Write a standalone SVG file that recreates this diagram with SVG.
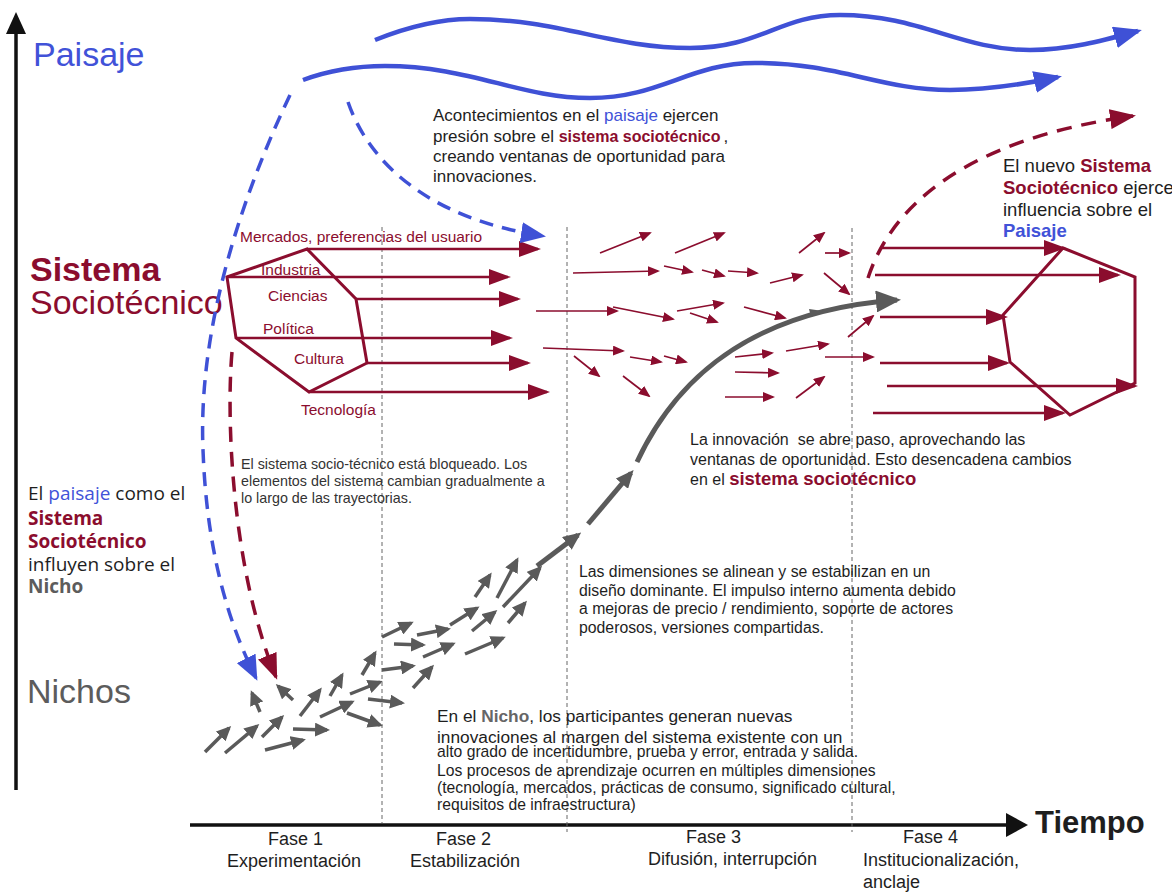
<svg xmlns="http://www.w3.org/2000/svg" width="1172" height="892" viewBox="0 0 1172 892">
<style>
text{font-family:"Liberation Sans",Arial,Helvetica,sans-serif;fill:#1e1e1e}
.os{font-family:"Open Sans","Liberation Sans",sans-serif}
.red{fill:#8b0d2e}
.blue{fill:#4152d8}
.b{font-weight:bold}
.grey{fill:#5c5c5c}
.axis{stroke:#111;stroke-width:3.5;fill:none}
.guide{stroke:#666;stroke-width:1;stroke-dasharray:4 3}
.wave{stroke:#3f51d6;stroke-width:4.5;fill:none;marker-end:url(#hBlue)}
.bdash{stroke:#3f51d6;stroke-width:3.5;fill:none;stroke-dasharray:14 9;marker-end:url(#hBlueS)}
.rdash{stroke:#8b0d2e;stroke-width:3.5;fill:none;stroke-dasharray:15 10;marker-end:url(#hRedD)}
.hex{stroke:#8b0d2e;stroke-width:3;fill:none;stroke-linejoin:miter}
.big{stroke:#8b0d2e;stroke-width:2.6;marker-end:url(#hRed)}
.sm{stroke:#8b0d2e;stroke-width:1.7;marker-end:url(#hRedS)}
.ga{stroke:#5a5a5a;stroke-width:3.5;marker-end:url(#hGrey)}
.gm{stroke:#5a5a5a;stroke-width:5;fill:none;marker-end:url(#hGreyM)}
.gc{stroke:#5a5a5a;stroke-width:5;fill:none;marker-end:url(#hGreyL)}
</style>
<defs>
<marker id="hBlue" markerUnits="userSpaceOnUse" markerWidth="28" markerHeight="22" refX="24" refY="11" orient="auto"><path d="M0,0 L28,11 L0,22 z" fill="#3f51d6"/></marker>
<marker id="hBlueS" markerUnits="userSpaceOnUse" markerWidth="25" markerHeight="21" refX="22" refY="10.5" orient="auto"><path d="M0,0 L25,10.5 L0,21 z" fill="#3f51d6"/></marker>
<marker id="hRedD" markerUnits="userSpaceOnUse" markerWidth="26" markerHeight="20" refX="23" refY="10" orient="auto"><path d="M0,0 L26,10 L0,20 z" fill="#8b0d2e"/></marker>
<marker id="hRed" markerUnits="userSpaceOnUse" markerWidth="22" markerHeight="16" refX="19" refY="8" orient="auto"><path d="M0,0 L22,8 L0,16 z" fill="#8b0d2e"/></marker>
<marker id="hRedS" markerUnits="userSpaceOnUse" markerWidth="12" markerHeight="10" refX="10" refY="5" orient="auto"><path d="M0,0 L12,5 L0,10 z" fill="#8b0d2e"/></marker>
<marker id="hGrey" markerUnits="userSpaceOnUse" markerWidth="15" markerHeight="14" refX="12" refY="7" orient="auto"><path d="M0,0 L15,7 L0,14 z" fill="#5a5a5a"/></marker>
<marker id="hGreyM" markerUnits="userSpaceOnUse" markerWidth="18" markerHeight="16" refX="14" refY="8" orient="auto"><path d="M0,0 L18,8 L0,16 z" fill="#5a5a5a"/></marker>
<marker id="hGreyL" markerUnits="userSpaceOnUse" markerWidth="25" markerHeight="22" refX="21" refY="11" orient="auto"><path d="M0,0 L25,11 L0,22 z" fill="#5a5a5a"/></marker>
</defs>

<!-- axes -->
<g id="axes">
<line class="axis" x1="16" y1="790" x2="16" y2="30"/>
<polygon points="6,34 26,34 16,12" fill="#111"/>
<line class="axis" x1="190" y1="825" x2="1010" y2="825" stroke-width="4"/>
<polygon points="1006,813 1028,825 1006,837" fill="#111"/>
<text x="1035" y="833" font-size="31" class="b" fill="#111">Tiempo</text>
</g>

<!-- phase separators -->
<g id="phase-guides">
<line class="guide" x1="382" y1="227" x2="382" y2="823"/>
<line class="guide" x1="567" y1="227" x2="567" y2="832"/>
<line class="guide" x1="852" y1="228" x2="852" y2="832"/>
</g>

<!-- level labels -->
<g id="level-paisaje"><text x="33" y="66" font-size="34" class="blue">Paisaje</text></g>
<g id="level-sistema">
<text x="30" y="281" font-size="34" class="red b">Sistema</text>
<text x="30" y="314" font-size="34" class="red">Sociotécnico</text>
</g>
<g id="level-nichos"><text x="27" y="703" font-size="34" class="grey">Nichos</text></g>

<!-- existing regime: hexagon of dimensions -->
<g id="regimen-actual">
<polygon class="hex" points="227,277 307,249 356,299 367,363 309,392 236,338"/>
<g font-size="15.5" class="red">
<text x="240" y="242" class="red">Mercados, preferencias del usuario</text>
<text x="261" y="275" class="red">Industria</text>
<text x="268" y="301" class="red">Ciencias</text>
<text x="263" y="334" class="red">Política</text>
<text x="294" y="364" class="red">Cultura</text>
<text x="301" y="415" class="red">Tecnología</text>
</g>
<line class="big" x1="307" y1="249" x2="538" y2="249"/>
<line class="big" x1="227" y1="277" x2="508" y2="277"/>
<line class="big" x1="356" y1="299" x2="518" y2="299"/>
<line class="big" x1="236" y1="338" x2="510" y2="338"/>
<line class="big" x1="367" y1="363" x2="528" y2="363"/>
<line class="big" x1="309" y1="392" x2="547" y2="392"/>
</g>

<!-- new regime -->
<g id="regimen-nuevo">
<polygon class="hex" points="1063,248 1135,277 1135,383 1070,415 1010,362 1003,315"/>
<line class="big" x1="882" y1="248" x2="1063" y2="248"/>
<line class="big" x1="875" y1="275" x2="1118" y2="275"/>
<line class="big" x1="880" y1="317" x2="1005" y2="317"/>
<line class="big" x1="880" y1="363" x2="1007" y2="363"/>
<line class="big" x1="887" y1="386" x2="1135" y2="386"/>
<line class="big" x1="873" y1="413" x2="1063" y2="413"/>
</g>

<!-- regime in flux -->
<g id="regimen-dinamico">
<line class="sm" x1="600" y1="253" x2="650" y2="233"/>
<line class="sm" x1="675" y1="253" x2="724" y2="233"/>
<line class="sm" x1="799" y1="253" x2="824" y2="233"/>
<line class="sm" x1="825" y1="253" x2="849" y2="253"/>
<line class="sm" x1="573" y1="273" x2="658" y2="271"/>
<line class="sm" x1="664" y1="266" x2="692" y2="272"/>
<line class="sm" x1="702" y1="270" x2="724" y2="276"/>
<line class="sm" x1="728" y1="271" x2="757" y2="273"/>
<line class="sm" x1="770" y1="283" x2="802" y2="275"/>
<line class="sm" x1="824" y1="273" x2="849" y2="294"/>
<line class="sm" x1="536" y1="311" x2="617" y2="311"/>
<line class="sm" x1="613" y1="307" x2="673" y2="319"/>
<line class="sm" x1="677" y1="311" x2="723" y2="303"/>
<line class="sm" x1="690" y1="313" x2="717" y2="322"/>
<line class="sm" x1="744" y1="307" x2="785" y2="318"/>
<line class="sm" x1="543" y1="348" x2="623" y2="351"/>
<line class="sm" x1="574" y1="356" x2="599" y2="376"/>
<line class="sm" x1="630" y1="357" x2="661" y2="362"/>
<line class="sm" x1="664" y1="356" x2="686" y2="362"/>
<line class="sm" x1="623" y1="376" x2="649" y2="396"/>
<line class="sm" x1="735" y1="357" x2="772" y2="353"/>
<line class="sm" x1="786" y1="351" x2="828" y2="344"/>
<line class="sm" x1="735" y1="372" x2="778" y2="373"/>
<line class="sm" x1="725" y1="397" x2="773" y2="397"/>
<line class="sm" x1="796" y1="398" x2="824" y2="377"/>
<line class="sm" x1="825" y1="357" x2="873" y2="357" stroke="#b85a70"/>
<line class="sm" x1="848" y1="337" x2="873" y2="316"/>
</g>

<!-- niche experiments -->
<g id="nicho">
<line class="ga" x1="205" y1="752" x2="229" y2="728"/>
<line class="ga" x1="225" y1="753" x2="257" y2="726"/>
<line class="ga" x1="262" y1="737" x2="282" y2="717"/>
<line class="ga" x1="265" y1="750" x2="303" y2="740"/>
<line class="ga" x1="293" y1="729" x2="327" y2="730"/>
<line class="ga" x1="260" y1="712" x2="252" y2="693"/>
<line class="ga" x1="293" y1="700" x2="278" y2="686"/>
<line class="ga" x1="300" y1="716" x2="320" y2="690"/>
<line class="ga" x1="320" y1="717" x2="352" y2="702"/>
<line class="ga" x1="330" y1="696" x2="342" y2="675"/>
<line class="ga" x1="350" y1="694" x2="380" y2="682"/>
<line class="ga" x1="347" y1="713" x2="380" y2="725"/>
<line class="ga" x1="362" y1="675" x2="375" y2="653"/>
<line class="ga" x1="368" y1="699" x2="402" y2="703"/>
<line class="ga" x1="382" y1="670" x2="413" y2="666"/>
<line class="ga" x1="382" y1="637" x2="411" y2="623"/>
<line class="ga" x1="394" y1="644" x2="423" y2="645"/>
<line class="ga" x1="413" y1="688" x2="432" y2="667"/>
<line class="ga" x1="417" y1="635" x2="448" y2="629"/>
<line class="ga" x1="423" y1="657" x2="453" y2="644"/>
<line class="ga" x1="450" y1="625" x2="477" y2="608"/>
<line class="ga" x1="465" y1="654" x2="503" y2="638"/>
<line class="ga" x1="472" y1="631" x2="495" y2="612"/>
<line class="ga" x1="475" y1="597" x2="490" y2="575"/>
<line class="ga" x1="497" y1="598" x2="517" y2="560"/>
<line class="ga" x1="503" y1="607" x2="540" y2="568"/>
<line class="ga" x1="508" y1="623" x2="525" y2="603"/>
</g>

<!-- connectors: landscape waves, influence arcs, innovation trajectory -->
<g id="connectors">
<path class="wave" d="M375,40 C410,26 440,19 470,19 C560,19 610,48 690,48 C760,48 780,15 840,15 C920,15 960,50 1030,50 C1070,50 1105,40 1138,31"/>
<path class="wave" d="M303,80 C330,70 355,66 385,66 C470,66 520,98 590,98 C660,98 690,63 755,63 C840,63 880,90 950,90 C990,90 1025,84 1058,77"/>
<path class="bdash" d="M290,95 C240,200 198,330 203,450 C207,560 232,630 256,678"/>
<path class="bdash" d="M348,102 C368,160 425,218 543,236"/>
<path class="rdash" d="M232,352 C226,420 232,570 276,677"/>
<path class="rdash" d="M868,278 C890,210 960,140 1133,116"/>
<line class="gm" x1="537" y1="566" x2="578" y2="535"/>
<line class="gm" x1="588" y1="524" x2="631" y2="473"/>
<path class="gc" d="M637,462 C680,370 760,310 897,300"/>
<polygon points="809,309 823,311 811,317" fill="#5a5a5a"/>
</g>

<!-- annotations -->
<g id="nota-paisaje" font-size="17">
<text x="433" y="121">Acontecimientos en el <tspan class="blue">paisaje</tspan> ejercen</text>
<text x="433" y="142">presión sobre el <tspan class="red b" font-size="16">sistema sociotécnico</tspan><tspan dx="3">,</tspan></text>
<text x="433" y="162">creando ventanas de oportunidad para</text>
<text x="433" y="182">innovaciones.</text>
</g>

<g id="nota-nuevo-sistema" font-size="18.5">
<text x="1003" y="172">El nuevo <tspan class="red b">Sistema</tspan></text>
<text x="1003" y="194"><tspan class="red b">Sociotécnico</tspan> ejerce</text>
<text x="1003" y="216">influencia sobre el</text>
<text x="1003" y="237" class="blue b">Paisaje</text>
</g>

<g id="nota-influencia" font-size="19">
<text class="os" x="28" y="500">El <tspan class="blue">paisaje</tspan> como el</text>
<text class="os red b" x="28" y="525">Sistema</text>
<text class="os red b" x="28" y="548">Sociotécnico</text>
<text class="os" x="28" y="571">influyen sobre el</text>
<text class="os b" x="28" y="593" style="fill:#5c5c5c">Nicho</text>
</g>

<g id="nota-bloqueo" font-size="14.3">
<text x="241" y="469" style="fill:#333">El sistema socio-técnico está bloqueado. Los</text>
<text x="241" y="486" style="fill:#333">elementos del sistema cambian gradualmente a</text>
<text x="241" y="503" style="fill:#333">lo largo de las trayectorias.</text>
</g>

<g id="nota-innovacion" font-size="16">
<text x="690" y="445" xml:space="preserve">La innovación  se abre paso, aprovechando las</text>
<text x="690" y="465">ventanas de oportunidad. Esto desencadena cambios</text>
<text x="690" y="485">en el <tspan class="red b" font-size="18.5">sistema sociotécnico</tspan></text>
</g>

<g id="nota-alineacion" font-size="15.8">
<text x="579" y="577">Las dimensiones se alinean y se estabilizan en un</text>
<text x="579" y="596">diseño dominante. El impulso interno aumenta debido</text>
<text x="579" y="614">a mejoras de precio / rendimiento, soporte de actores</text>
<text x="579" y="633">poderosos, versiones compartidas.</text>
</g>

<g id="nota-nicho">
<text x="437" y="722" font-size="17.3">En el <tspan class="b" style="fill:#666">Nicho</tspan>, los participantes generan nuevas</text>
<text x="437" y="743" font-size="17.3">innovaciones al margen del sistema existente con un</text>
<text x="437" y="757" font-size="15.7">alto grado de incertidumbre, prueba y error, entrada y salida.</text>
<text x="437" y="776" font-size="15.7">Los procesos de aprendizaje ocurren en múltiples dimensiones</text>
<text x="437" y="793" font-size="15.7">(tecnología, mercados, prácticas de consumo, significado cultural,</text>
<text x="437" y="810" font-size="15.7">requisitos de infraestructura)</text>
</g>

<!-- phases along the time axis -->
<g id="fases" font-size="18">
<text x="268" y="845">Fase 1</text>
<text x="227" y="867">Experimentación</text>
<text x="436" y="845">Fase 2</text>
<text x="410" y="867">Estabilización</text>
<text x="686" y="843">Fase 3</text>
<text x="648" y="865">Difusión, interrupción</text>
<text x="903" y="843">Fase 4</text>
<text x="863" y="866">Institucionalización,</text>
<text x="863" y="888">anclaje</text>
</g>
</svg>
